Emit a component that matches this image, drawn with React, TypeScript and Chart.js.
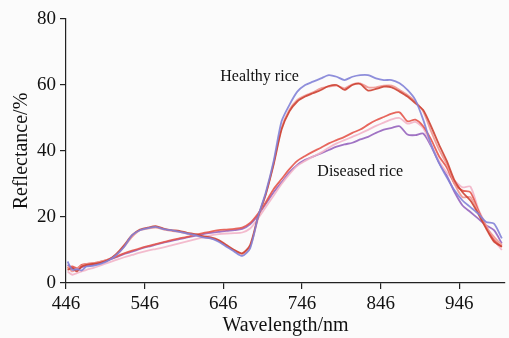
import React, { useEffect, useRef } from "react";
import { Chart, registerables } from "chart.js";

Chart.register(...registerables);

const WAVELENGTHS = [448, 454, 460, 466, 472, 480, 490, 500, 510, 520, 530, 540, 550, 560, 570, 580, 590, 600, 610, 620, 630, 640, 650, 660, 670, 680, 690, 700, 710, 720, 730, 740, 750, 760, 770, 780, 790, 800, 810, 820, 830, 840, 850, 860, 870, 880, 890, 900, 910, 920, 930, 940, 950, 960, 970, 980, 990, 1000];

const HEALTHY_1 = [6.5, 4, 4.2, 3.8, 5, 5.2, 5.8, 6.8, 8.5, 11, 14.5, 16, 16.6, 17, 16.3, 16, 15.5, 15, 14.5, 13.8, 13.5, 12.5, 11, 9.5, 8.2, 10.5, 20, 27.5, 37, 49, 54, 58, 60, 61, 62, 63, 62.5, 61.5, 62.5, 63, 63, 62, 61.5, 61.5, 60.5, 58.5, 55.5, 49.5, 42, 36.5, 32, 28, 25, 23, 21, 18.5, 18, 13.5];
const HEALTHY_2 = [4, 4.5, 3.5, 5, 5.5, 5.8, 6.2, 7, 8.8, 11.5, 14.5, 16.2, 16.8, 17.2, 16.5, 16, 15.8, 15.2, 14.8, 14.2, 13.8, 13, 11.5, 10, 9, 11.5, 20, 27, 36, 46.5, 52, 55, 56.5, 57.5, 58.5, 59.7, 60, 58.5, 60, 60.3, 58.3, 58.8, 59.5, 59.3, 58, 56.5, 54.5, 52.4, 47.5, 42, 37, 31, 27.5, 25, 21, 16.5, 12.5, 11];
const HEALTHY_3 = [5, 3.5, 4.5, 5.2, 5.8, 6, 6.5, 7.2, 8.5, 11, 14, 16, 16.5, 16.8, 16.2, 15.8, 15.5, 15, 14.5, 14, 13.5, 12.8, 11.2, 9.8, 8.8, 11, 19.5, 27, 36.5, 47, 52.5, 55.5, 56.8, 57.8, 59, 59.5, 59.8, 59, 60.2, 60.5, 59.3, 59.3, 59.8, 59.8, 58.5, 57, 55, 52, 46, 40.5, 36, 30, 26, 26, 21.5, 17, 14, 11.5];
const DISEASED_1 = [4.5, 5, 4.5, 5.5, 5.8, 6, 6.5, 7.2, 8, 9, 9.8, 10.5, 11.2, 11.8, 12.4, 13, 13.5, 14, 14.6, 15.1, 15.6, 16, 16.2, 16.4, 16.8, 18.2, 21, 24.5, 28.5, 31.5, 34.5, 37, 38.5, 39.8, 41, 42.3, 43.3, 44.3, 45.5, 46.5, 48, 49.3, 50.3, 51.3, 51.7, 49, 49.5, 47.5, 43.5, 38.5, 35, 30, 28, 27.5, 22, 17, 13, 11];
const DISEASED_2 = [3.5, 2.5, 3, 3.5, 4, 4.5, 5.3, 6.2, 7, 7.8, 8.5, 9.2, 9.8, 10.3, 10.8, 11.4, 12, 12.6, 13.2, 13.8, 14.4, 14.8, 15, 15.1, 15.3, 16.5, 19.5, 23, 26.5, 30, 33, 35.5, 37, 38.3, 39.5, 41, 42.3, 43.3, 44.3, 45.3, 46.4, 47.6, 48.6, 49.6, 50, 48.3, 48.8, 47, 42, 37, 33.5, 31, 29, 29.2, 22.5, 17.5, 13, 10];
const DISEASED_3 = [5.5, 4.5, 4, 4.8, 5.2, 5.5, 6, 7, 7.8, 8.8, 9.5, 10.3, 11, 11.6, 12.2, 12.8, 13.3, 13.8, 14.3, 14.8, 15.2, 15.5, 15.8, 16, 16.4, 17.8, 20.5, 24, 27.5, 30.5, 33.5, 35.8, 37.3, 38.3, 39.3, 40.3, 41.3, 42, 42.5, 43.5, 44.3, 45.5, 46.5, 47, 47.5, 45, 44.8, 45.3, 41.5, 36.5, 32.5, 27.5, 23.5, 21.5, 19.5, 17.5, 16, 12];

const SERIES_NAMES = ["Healthy 1", "Healthy 2", "Healthy 3", "Diseased 1", "Diseased 2", "Diseased 3"];
const SERIES_VALUES = [HEALTHY_1, HEALTHY_2, HEALTHY_3, DISEASED_1, DISEASED_2, DISEASED_3];
const SERIES_COLORS = ["rgba(130,130,215,0.9)", "rgba(205,65,50,0.9)", "rgba(238,150,145,0.9)", "rgba(228,85,75,0.9)", "rgba(242,180,200,0.9)", "rgba(150,100,190,0.9)"];

const X_TICKS = [446, 546, 646, 746, 846, 946];
const Y_TICKS = [0, 20, 40, 60, 80];

const NOTE_LABELS = ["Healthy rice", "Diseased rice"];
const NOTE_X = [692, 820];
const NOTE_Y = [62.4, 33.6];

const SERIF = "'Liberation Serif', 'DejaVu Serif', serif";

const notesPlugin = {
  id: "notes",
  afterDatasetsDraw(chart: any) {
    const { ctx, scales } = chart;
    ctx.save();
    ctx.font = `16px ${SERIF}`;
    ctx.fillStyle = "#111";
    ctx.textAlign = "center";
    ctx.textBaseline = "middle";
    NOTE_LABELS.forEach((t, i) => {
      ctx.fillText(t, scales.x.getPixelForValue(NOTE_X[i]), scales.y.getPixelForValue(NOTE_Y[i]));
    });
    ctx.restore();
  },
};

export default function App() {
  const ref = useRef<HTMLCanvasElement | null>(null);
  useEffect(() => {
    document.body.style.margin = "0";
    document.body.style.background = "#fbfbfb";
    if (!ref.current) return;
    const chart = new Chart(ref.current, {
      type: "line",
      data: {
        datasets: SERIES_VALUES.map((vals, i) => ({
          label: SERIES_NAMES[i],
          data: vals.map((v, j) => ({ x: WAVELENGTHS[j], y: v })),
          borderColor: SERIES_COLORS[i],
          borderWidth: 1.8,
          pointRadius: 0,
          tension: 0.25,
          fill: false,
        })),
      },
      options: {
        animation: false,
        responsive: true,
        maintainAspectRatio: false,
        layout: { padding: { top: 19, right: 4, left: 0, bottom: 0 } },
        plugins: { legend: { display: false }, tooltip: { enabled: false } },
        scales: {
          x: {
            type: "linear",
            min: 446,
            max: 1004,
            afterBuildTicks: (s: any) => {
              s.ticks = X_TICKS.map((v) => ({ value: v }));
            },
            afterFit: (s: any) => {
              s.height = 55;
            },
            ticks: { font: { family: SERIF, size: 19 }, color: "#111", padding: 4, maxRotation: 0, autoSkip: false },
            grid: { drawOnChartArea: false, drawTicks: true, tickLength: 6, color: "#222", lineWidth: 1.2 },
            border: { display: true, color: "#222", width: 1.2 },
            title: { display: true, text: "Wavelength/nm", font: { family: SERIF, size: 20 }, color: "#111", padding: { top: -2, bottom: 0 } },
          },
          y: {
            min: 0,
            max: 80,
            afterBuildTicks: (s: any) => {
              s.ticks = Y_TICKS.map((v) => ({ value: v }));
            },
            afterFit: (s: any) => {
              s.width = 66;
            },
            ticks: { font: { family: SERIF, size: 19 }, color: "#111", padding: 4 },
            grid: { drawOnChartArea: false, drawTicks: true, tickLength: 6, color: "#222", lineWidth: 1.2 },
            border: { display: true, color: "#222", width: 1.2 },
            title: { display: true, text: "Reflectance/%", font: { family: SERIF, size: 20 }, color: "#111", padding: { top: 10, bottom: 0 } },
          },
        },
      },
      plugins: [notesPlugin],
    });
    return () => chart.destroy();
  }, []);
  return (
    <div style={{ width: 509, height: 338, position: "relative", background: "#fbfbfb" }}>
      <canvas ref={ref} />
    </div>
  );
}
